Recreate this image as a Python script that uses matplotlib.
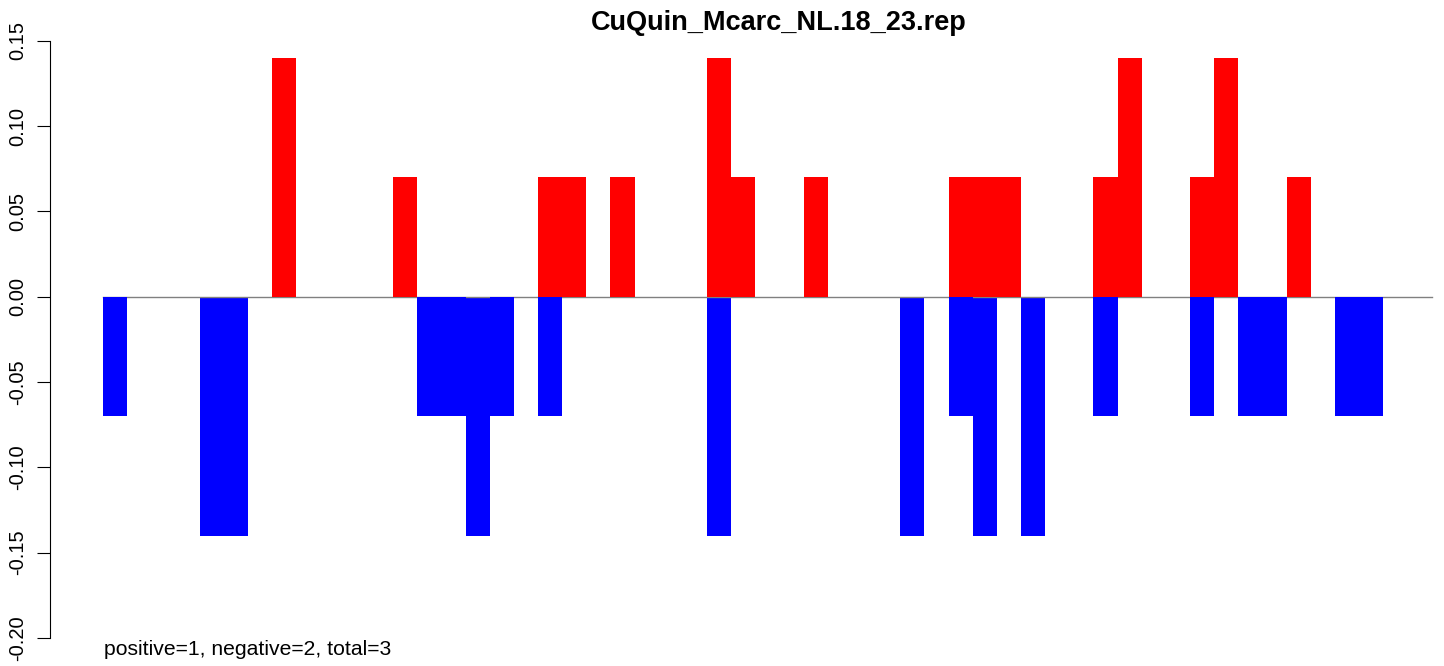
import matplotlib
matplotlib.use('Agg')
import matplotlib.pyplot as plt
import numpy as np

# ============ data ============
TITLE = "CuQuin_Mcarc_NL.18_23.rep"
NOTE = "positive=1, negative=2, total=3"
N_BARS = 55

# bar index -> value
pos_idx = [7, 12, 18, 19, 21, 25, 26, 29, 35, 36, 37, 41, 42, 45, 46, 49]
pos_val = [0.14, 0.07, 0.07, 0.07, 0.07, 0.14, 0.07, 0.07, 0.07, 0.07, 0.07,
           0.07, 0.14, 0.07, 0.14, 0.07]

neg_idx = [0, 4, 5, 13, 14, 15, 16, 18, 25, 33, 35, 36, 38, 41, 45, 47, 48, 51, 52]
neg_val = [-0.07, -0.14, -0.14, -0.07, -0.07, -0.14, -0.07, -0.07, -0.14, -0.14,
           -0.07, -0.14, -0.14, -0.07, -0.07, -0.07, -0.07, -0.07, -0.07]

yticks = [-0.20, -0.15, -0.10, -0.05, 0.00, 0.05, 0.10, 0.15]

plt.rcParams['font.family'] = ['Liberation Sans', 'DejaVu Sans']

W, H = 1444, 666
fig = plt.figure(figsize=(W / 100, H / 100), dpi=100)

# pixel geometry of the reference
x0_px = 103.3      # left edge of bar 0
bw_px = 24.15      # bar width
axis_px = 50.2     # y axis line
y_top_px, y_bot_px = 40.7, 638.0   # 0.15 and -0.20
ppu = (y_bot_px - y_top_px) / 0.35

ax = fig.add_axes([axis_px / W, 0, 1 - axis_px / W, 1])
ax.set_xlim((axis_px - x0_px) / bw_px, (W - x0_px) / bw_px)
ax.set_ylim(-0.20 - (H - y_bot_px) / ppu, 0.15 + y_top_px / ppu)

# bars: deeper negatives sit under the zero line, the rest over it
neg_idx = np.array(neg_idx)
neg_val = np.array(neg_val)
deep = neg_val <= -0.14
ax.bar(neg_idx[deep], neg_val[deep], width=1.0, align='edge', color='#0000FF',
       linewidth=0, zorder=1)
ax.plot([0, N_BARS], [0, 0], color='#808080', linewidth=1.0, zorder=2)
ax.bar(neg_idx[~deep], neg_val[~deep], width=1.0, align='edge', color='#0000FF',
       linewidth=0, zorder=3)
ax.bar(pos_idx, pos_val, width=1.0, align='edge', color='#FF0000',
       linewidth=0, zorder=3)

# axis styling
for s in ['top', 'right', 'bottom']:
    ax.spines[s].set_visible(False)
ax.spines['left'].set_bounds(-0.20, 0.15)
ax.spines['left'].set_linewidth(0.8)
ax.set_xticks([])
ax.set_yticks(yticks)
ax.set_yticklabels([f"{v:.2f}" for v in yticks], rotation=90, va='center')
ax.tick_params(axis='y', length=9.4, width=0.8, pad=7, labelsize=14.5)

fig.text(779 / W, 1 - 30 / H, TITLE, ha='center', va='baseline',
         fontsize=19.5, fontweight='bold')
fig.text(104 / W, 1 - 655 / H, NOTE, ha='left', va='baseline', fontsize=15.2)

plt.savefig('out.png', dpi=100, facecolor='white')
